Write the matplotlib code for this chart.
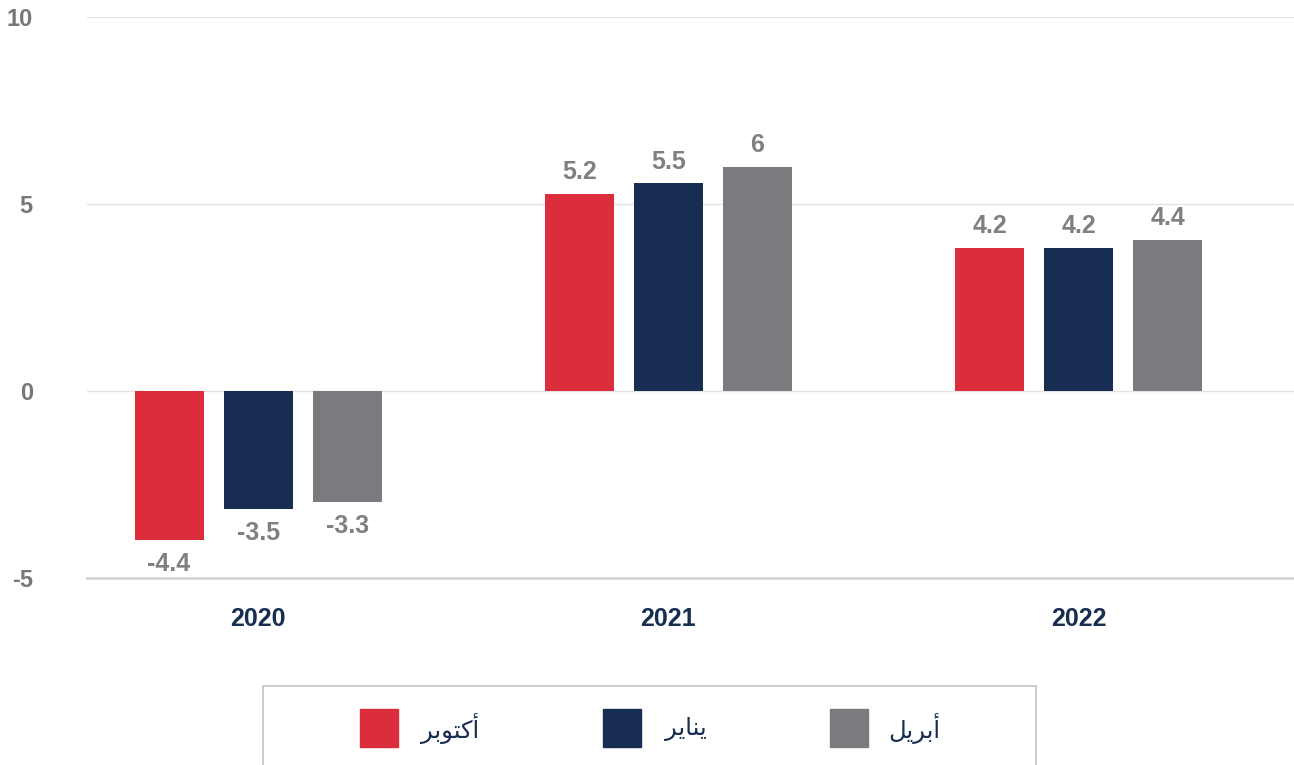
import matplotlib.pyplot as plt
import numpy as np
from matplotlib.patches import Rectangle

years = ['2020', '2021', '2022']
months = ['أكتوبر', 'يناير', 'أبريل']
# bar heights as drawn in the picture
heights = [
    [-3.98, 5.28, 3.83],   # October
    [-3.15, 5.55, 3.83],   # January
    [-2.96, 6.0, 4.05],    # April
]
# value labels as printed
labels = [
    ['-4.4', '5.2', '4.2'],
    ['-3.5', '5.5', '4.2'],
    ['-3.3', '6', '4.4'],
]
colors = ['#dc2d3c', '#172d52', '#7b7b7f']

# minimal Arabic shaping: (isolated, final, initial, medial)
forms = {
    'أ': ('\uFE83', '\uFE84', None, None),
    'ا': ('\uFE8D', '\uFE8E', None, None),
    'و': ('\uFEED', '\uFEEE', None, None),
    'ر': ('\uFEAD', '\uFEAE', None, None),
    'ك': ('\uFED9', '\uFEDA', '\uFEDB', '\uFEDC'),
    'ت': ('\uFE95', '\uFE96', '\uFE97', '\uFE98'),
    'ب': ('\uFE8F', '\uFE90', '\uFE91', '\uFE92'),
    'ي': ('\uFEF1', '\uFEF2', '\uFEF3', '\uFEF4'),
    'ن': ('\uFEE5', '\uFEE6', '\uFEE7', '\uFEE8'),
    'ل': ('\uFEDD', '\uFEDE', '\uFEDF', '\uFEE0'),
}


def shape(word):
    out = []
    for i, ch in enumerate(word):
        f = forms[ch]
        prev_joins = i > 0 and forms[word[i - 1]][2] is not None
        next_joins = i < len(word) - 1 and f[2] is not None
        if prev_joins and next_joins:
            out.append(f[3])
        elif prev_joins:
            out.append(f[1])
        elif next_joins:
            out.append(f[2])
        else:
            out.append(f[0])
    return ''.join(reversed(out))


plt.rcParams['font.family'] = ['Liberation Sans', 'DejaVu Sans']

fig = plt.figure(figsize=(12.94, 7.65), dpi=100)
ax = fig.add_axes([87 / 1294, 187 / 765, 1207 / 1294, 561 / 765])

x = np.arange(len(years))
offsets = [-0.217, 0, 0.217]
for k in range(3):
    bars = ax.bar(x + offsets[k], heights[k], width=0.168, color=colors[k], zorder=3)
    for b, lab in zip(bars, labels[k]):
        h = b.get_height()
        if h >= 0:
            ax.annotate(lab, (b.get_x() + b.get_width() / 2, h), xytext=(0, 7),
                        textcoords='offset points', ha='center', va='bottom',
                        fontsize=18, fontweight='bold', color='#808083')
        else:
            ax.annotate(lab, (b.get_x() + b.get_width() / 2, h), xytext=(0, -9),
                        textcoords='offset points', ha='center', va='top',
                        fontsize=18, fontweight='bold', color='#808083')

ax.set_xlim(-0.417, 2.525)
ax.set_ylim(-5, 10)
ax.set_yticks([-5, 0, 5, 10])
ax.set_xticks(x)
ax.set_xticklabels(years, fontsize=18, fontweight='bold', color='#172d52')
ax.set_yticklabels(['-5', '0', '5', '10'], fontsize=17, fontweight='bold', color='#77777a')
ax.tick_params(axis='y', length=0, pad=39)
ax.tick_params(axis='x', length=0, pad=21)
ax.grid(axis='y', color='#e3e3e3', linewidth=1, zorder=0)
for s in ['top', 'right', 'left']:
    ax.spines[s].set_visible(False)
ax.spines['bottom'].set_color('#d5d5d5')
ax.spines['bottom'].set_linewidth(2)

# legend box, cut off at the bottom of the picture
W, H = 1294, 765
fig.add_artist(Rectangle((263 / W, -40 / H), 773 / W, (765 - 686 + 40) / H,
                         transform=fig.transFigure, fill=False,
                         edgecolor='#c4c4c4', linewidth=1.2))
sq_x = [360, 603, 830]
txt_x = [479, 707, 940]
for k in range(3):
    fig.add_artist(Rectangle((sq_x[k] / W, (765 - 747) / H), 38 / W, 38 / H,
                             transform=fig.transFigure, color=colors[k]))
    fig.text(txt_x[k] / W, (765 - 729) / H, shape(months[k]), ha='right', va='center',
             fontsize=17.5, color='#172d52', family=['DejaVu Sans'])

fig.savefig('out.png', dpi=100)
